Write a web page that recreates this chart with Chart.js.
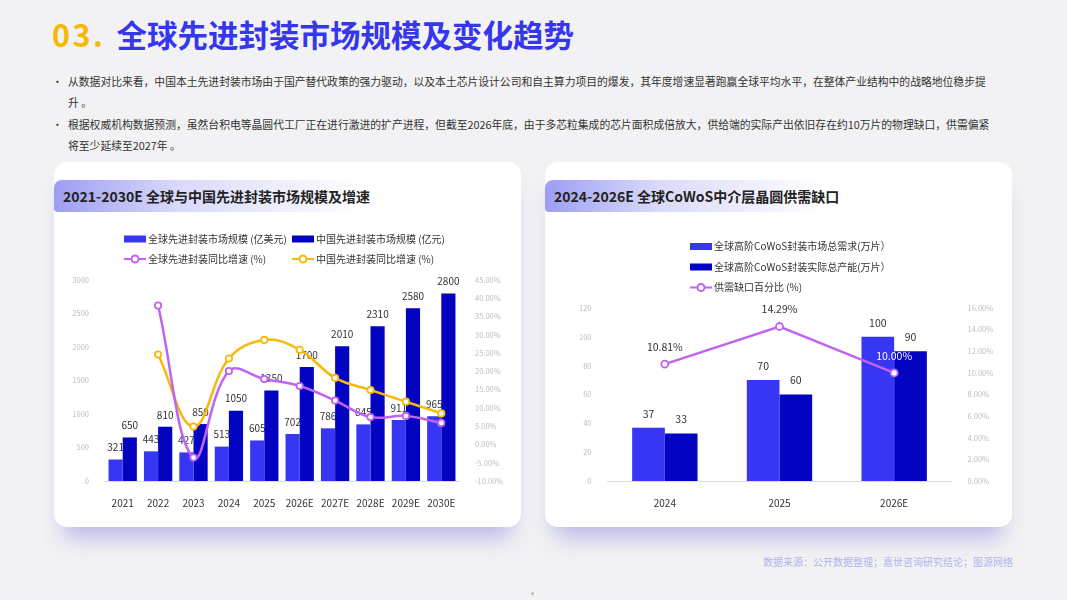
<!DOCTYPE html>
<html>
<head>
<meta charset="utf-8">
<script src="https://cdn.jsdelivr.net/npm/chart.js@4.4.1/dist/chart.umd.min.js"></script>
<style>
  body { margin: 0; width: 1067px; height: 600px; background: #f2f2f4; position: relative; overflow: hidden;
         font-family: "Noto Sans CJK SC", "Noto Sans", sans-serif; }
  .title { position: absolute; left: 52px; top: 12px; font-size: 30.5px; font-weight: 700; line-height: 44px; white-space: nowrap; }
  .title .num { color: #f6b800; margin-right: 11px; letter-spacing: 2.5px; }
  .title .txt { color: #3636ee; }
  .bullets { position: absolute; left: 52px; top: 71px; font-size: 10.8px; color: #333; line-height: 21.3px; }
  .bullets div { position: relative; padding-left: 16px; white-space: nowrap; }
  .bullets div::before { content: "•"; position: absolute; left: 0; top: 0; }
  .card { position: absolute; top: 162px; width: 467px; height: 365px; background: #fff; border-radius: 13px;
          box-shadow: 0 20px 22px -10px rgba(110,110,215,0.45); }
  .head { position: absolute; top: 18px; left: 0; height: 32px; border-top-left-radius: 8px; border-bottom-left-radius: 4px;
          background: linear-gradient(90deg, #9d9df4 0%, #d9d9fa 40%, rgba(255,255,255,0) 100%);
          font-size: 14px; font-weight: 700; color: #222; line-height: 32px; padding-left: 9px; white-space: nowrap; }
  canvas { position: absolute; }
  .source { position: absolute; right: 54px; top: 554px; font-size: 10px; color: #b3b3ee; }
  .dot { position: absolute; left: 531px; top: 592px; width: 3px; height: 3px; border-radius: 50%; background: #bbb; }
</style>
</head>
<body>
<div class="title"><span class="num">03.</span><span class="txt">全球先进封装市场规模及变化趋势</span></div>
<div class="bullets">
  <div>从数据对比来看，中国本土先进封装市场由于国产替代政策的强力驱动，以及本土芯片设计公司和自主算力项目的爆发，其年度增速显著跑赢全球平均水平，在整体产业结构中的战略地位稳步提<br>升 。</div>
  <div>根据权威机构数据预测，虽然台积电等晶圆代工厂正在进行激进的扩产进程，但截至2026年底，由于多芯粒集成的芯片面积成倍放大，供给端的实际产出依旧存在约10万片的物理缺口，供需偏紧<br>将至少延续至2027年 。</div>
</div>

<div class="card" style="left:54px;"><div class="head" style="width:300px;">2021-2030E 全球与中国先进封装市场规模及增速</div></div>
<div class="card" style="left:545px;"><div class="head" style="width:270px;">2024-2026E 全球CoWoS中介层晶圆供需缺口</div></div>

<canvas id="marketChart" width="460" height="290" style="left:58px; top:220px;"></canvas>
<canvas id="cowosChart" width="459" height="290" style="left:549px; top:220px;"></canvas>

<div class="source">数据来源：公开数据整理；嘉世咨询研究结论；图源网络</div>
<div class="dot"></div>

<script>
// left chart data
const years = ["2021", "2022", "2023", "2024", "2025", "2026E", "2027E", "2028E", "2029E", "2030E"];
const globalMarket = [321, 443, 427, 513, 605, 702, 786, 845, 911, 965];
const chinaMarket = [650, 810, 850, 1050, 1350, 1700, 2010, 2310, 2580, 2800];
const globalGrowth = [null, 38.0, -3.6, 20.1, 17.9, 16.0, 12.0, 7.5, 7.8, 5.9];
const chinaGrowth = [null, 24.6, 4.9, 23.5, 28.6, 25.9, 18.2, 14.9, 11.7, 8.5];

// right chart data
const cowosYears = ["2024", "2025", "2026E"];
const cowosDemand = [37, 70, 100];
const cowosCapacity = [33, 60, 90];
const cowosGap = [10.81, 14.29, 10.00];

const FONT = '"Noto Sans CJK SC", "Noto Sans", sans-serif';
const BLUE = "#3636f4";
const NAVY = "#0303c2";
const PURPLE = "#c163f2";
const GOLD = "#f6b90c";

// Legend drawn in a fixed grid (bars as boxes, lines as line + hollow circle)
const gridLegend = {
  id: "gridLegend",
  afterDraw(chart, args, opts) {
    const ctx = chart.ctx;
    ctx.save();
    ctx.font = opts.size + "px " + FONT;
    ctx.textBaseline = "middle";
    chart.data.datasets.forEach((ds, i) => {
      const x = opts.x + (i % opts.cols) * opts.colGap;
      const y = opts.y + Math.floor(i / opts.cols) * opts.rowGap;
      if (ds.type === "line") {
        ctx.strokeStyle = ds.borderColor;
        ctx.lineWidth = 2;
        ctx.beginPath();
        ctx.moveTo(x, y);
        ctx.lineTo(x + 22, y);
        ctx.stroke();
        ctx.beginPath();
        ctx.arc(x + 11, y, 3.5, 0, Math.PI * 2);
        ctx.fillStyle = "#fff";
        ctx.fill();
        ctx.stroke();
      } else {
        ctx.fillStyle = ds.backgroundColor;
        ctx.fillRect(x, y - 3.5, 22, 7);
      }
      ctx.fillStyle = "#333";
      ctx.fillText(ds.label, x + 24, y);
    });
    ctx.restore();
  }
};

// Value labels: bar labels go under the marks (neighbouring bars and lines may cover them),
// line labels are drawn on top
function drawLabels(chart, under) {
  const ctx = chart.ctx;
  chart.data.datasets.forEach((ds, i) => {
    const st = ds.labelStyle;
    if (!st || !!st.under !== under) return;
    ctx.save();
    ctx.font = st.size + "px " + FONT;
    ctx.textAlign = "center";
    ctx.textBaseline = "middle";
    chart.getDatasetMeta(i).data.forEach((el, j) => {
      const v = ds.data[j];
      if (v === null) return;
      ctx.fillStyle = Array.isArray(st.color) ? st.color[j] : st.color;
      ctx.fillText(st.format ? st.format(v) : String(v), el.x, el.y - st.offset);
    });
    ctx.restore();
  });
}

const valueLabels = {
  id: "valueLabels",
  beforeDatasetsDraw(chart) { drawLabels(chart, true); },
  afterDatasetsDraw(chart) { drawLabels(chart, false); }
};

function sideAxis(width) {
  return {
    grid: { display: false },
    border: { display: false },
    afterFit: s => { s.width = width; }
  };
}

new Chart(document.getElementById("marketChart"), {
  data: {
    labels: years,
    datasets: [
      {
        type: "bar", label: "全球先进封装市场规模 (亿美元)", data: globalMarket, backgroundColor: BLUE,
        yAxisID: "y", order: 1, categoryPercentage: 0.8, barPercentage: 1,
        labelStyle: { size: 10, color: "#333", offset: 12, under: true }
      },
      {
        type: "bar", label: "中国先进封装市场规模 (亿元)", data: chinaMarket, backgroundColor: NAVY,
        yAxisID: "y", order: 1, categoryPercentage: 0.8, barPercentage: 1,
        labelStyle: { size: 10, color: "#333", offset: 12, under: true }
      },
      {
        type: "line", label: "全球先进封装同比增速 (%)", data: globalGrowth, borderColor: PURPLE,
        yAxisID: "y1", order: 0, tension: 0.4, borderWidth: 2.5,
        pointRadius: 3.2, pointBorderWidth: 1.8, pointBackgroundColor: "#fff", pointBorderColor: PURPLE
      },
      {
        type: "line", label: "中国先进封装同比增速 (%)", data: chinaGrowth, borderColor: GOLD,
        yAxisID: "y1", order: 0, tension: 0.4, borderWidth: 2.5,
        pointRadius: 3.2, pointBorderWidth: 1.8, pointBackgroundColor: "#fff", pointBorderColor: GOLD
      }
    ]
  },
  options: {
    responsive: false,
    animation: false,
    layout: { padding: { top: 60, left: 0, right: 0, bottom: 0 } },
    plugins: {
      legend: { display: false },
      tooltip: { enabled: false },
      gridLegend: { x: 66, y: 19, cols: 2, colGap: 168, rowGap: 20, size: 10 }
    },
    scales: {
      x: {
        grid: { display: false },
        border: { color: "#dcdcdc" },
        ticks: { color: "#333", font: { size: 10, family: FONT }, padding: 8 },
        afterFit: s => { s.height = 29; }
      },
      y: Object.assign(sideAxis(47), {
        position: "left", min: 0, max: 3000,
        ticks: { stepSize: 500, color: "#bdbdbd", font: { size: 7.5, family: FONT }, padding: 8, callback: v => String(v) }
      }),
      y1: Object.assign(sideAxis(59), {
        position: "right", min: -10, max: 45,
        ticks: {
          stepSize: 5, color: "#bdbdbd", font: { size: 7.5, family: FONT }, padding: 8,
          callback: v => v.toFixed(2) + "%"
        }
      })
    }
  },
  plugins: [gridLegend, valueLabels]
});

new Chart(document.getElementById("cowosChart"), {
  data: {
    labels: cowosYears,
    datasets: [
      {
        type: "bar", label: "全球高阶CoWoS封装市场总需求(万片）", data: cowosDemand, backgroundColor: BLUE,
        yAxisID: "y", order: 1, categoryPercentage: 0.57, barPercentage: 1,
        labelStyle: { size: 10.5, color: "#333", offset: 14, under: true }
      },
      {
        type: "bar", label: "全球高阶CoWoS封装实际总产能(万片）", data: cowosCapacity, backgroundColor: NAVY,
        yAxisID: "y", order: 1, categoryPercentage: 0.57, barPercentage: 1,
        labelStyle: { size: 10.5, color: "#333", offset: 14, under: true }
      },
      {
        type: "line", label: "供需缺口百分比 (%)", data: cowosGap, borderColor: PURPLE,
        yAxisID: "y1", order: 0, tension: 0, borderWidth: 2.5,
        pointRadius: 3.5, pointBorderWidth: 1.8, pointBackgroundColor: "#fff", pointBorderColor: PURPLE,
        labelStyle: { size: 10.5, color: ["#333", "#333", "#ffffff"], offset: 17, format: v => v.toFixed(2) + "%" }
      }
    ]
  },
  options: {
    responsive: false,
    animation: false,
    layout: { padding: { top: 88, left: 0, right: 0, bottom: 0 } },
    plugins: {
      legend: { display: false },
      tooltip: { enabled: false },
      gridLegend: { x: 141, y: 26.5, cols: 1, colGap: 0, rowGap: 20.5, size: 10 }
    },
    scales: {
      x: {
        grid: { display: false },
        border: { color: "#dcdcdc" },
        ticks: { color: "#333", font: { size: 10, family: FONT }, padding: 8 },
        afterFit: s => { s.height = 29; }
      },
      y: Object.assign(sideAxis(58.5), {
        position: "left", min: 0, max: 120,
        ticks: { stepSize: 20, color: "#bdbdbd", font: { size: 7.5, family: FONT }, padding: 8 }
      }),
      y1: Object.assign(sideAxis(56.5), {
        position: "right", min: 0, max: 16,
        ticks: {
          stepSize: 2, color: "#bdbdbd", font: { size: 7.5, family: FONT }, padding: 8,
          callback: v => v.toFixed(2) + "%"
        }
      })
    }
  },
  plugins: [gridLegend, valueLabels]
});
</script>
</body>
</html>
